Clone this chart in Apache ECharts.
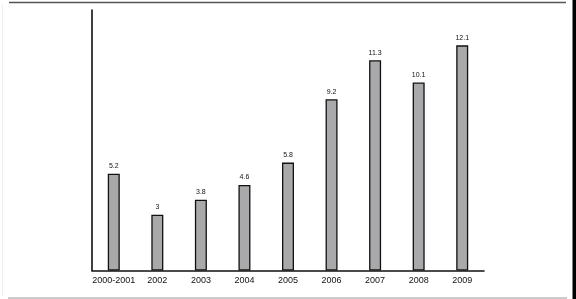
<!DOCTYPE html>
<html>
<head>
<meta charset="utf-8">
<script src="https://cdn.jsdelivr.net/npm/echarts@6/dist/echarts.min.js"></script>
<style>
html,body{margin:0;padding:0;background:#fff;}
#chart{width:576px;height:299px;}
</style>
</head>
<body>
<div id="chart"></div>
<script>
const categories = ['2000-2001','2002','2003','2004','2005','2006','2007','2008','2009'];
const values = [5.2, 3, 3.8, 4.6, 5.8, 9.2, 11.3, 10.1, 12.1];

const chart = echarts.init(document.getElementById('chart'), null, {renderer:'canvas'});
chart.setOption({
  animation: false,
  backgroundColor: '#ffffff',
  grid: {left: 92, right: 92, top: 10, bottom: 28.5},
  xAxis: {
    type: 'category',
    data: categories,
    axisLine: {lineStyle: {color: '#111', width: 1.6}},
    axisTick: {show: false},
    axisLabel: {interval: 0, hideOverlap: false, color: '#111', fontSize: 9, fontFamily: 'Liberation Sans, Arial', margin: 6}
  },
  yAxis: {
    type: 'value',
    min: 0, max: 14,
    axisLine: {show: true, lineStyle: {color: '#111', width: 1.6}},
    axisTick: {show: false},
    axisLabel: {show: false},
    splitLine: {show: false}
  },
  series: [{
    type: 'bar',
    data: values,
    barWidth: 12,
    itemStyle: {color: '#a9a9ab', borderColor: '#111', borderWidth: 1.3},
    label: {show: true, position: 'top', distance: 4, color: '#111', fontSize: 7, fontFamily: 'Liberation Sans, Arial'}
  }],
  graphic: [
    {type: 'line', shape: {x1: 9, y1: 2.5, x2: 566, y2: 2.5}, style: {stroke: '#555', lineWidth: 1.5}, silent: true},
    {type: 'line', shape: {x1: 2.5, y1: 4, x2: 2.5, y2: 296}, style: {stroke: '#eeeeee', lineWidth: 1}, silent: true},
    {type: 'line', shape: {x1: 8, y1: 298, x2: 567, y2: 298}, style: {stroke: '#bbbbbb', lineWidth: 1.5}, silent: true},
    {type: 'rect', shape: {x: 572.5, y: 0, width: 3.5, height: 299}, style: {fill: '#000'}, silent: true}
  ]
});
</script>
</body>
</html>
